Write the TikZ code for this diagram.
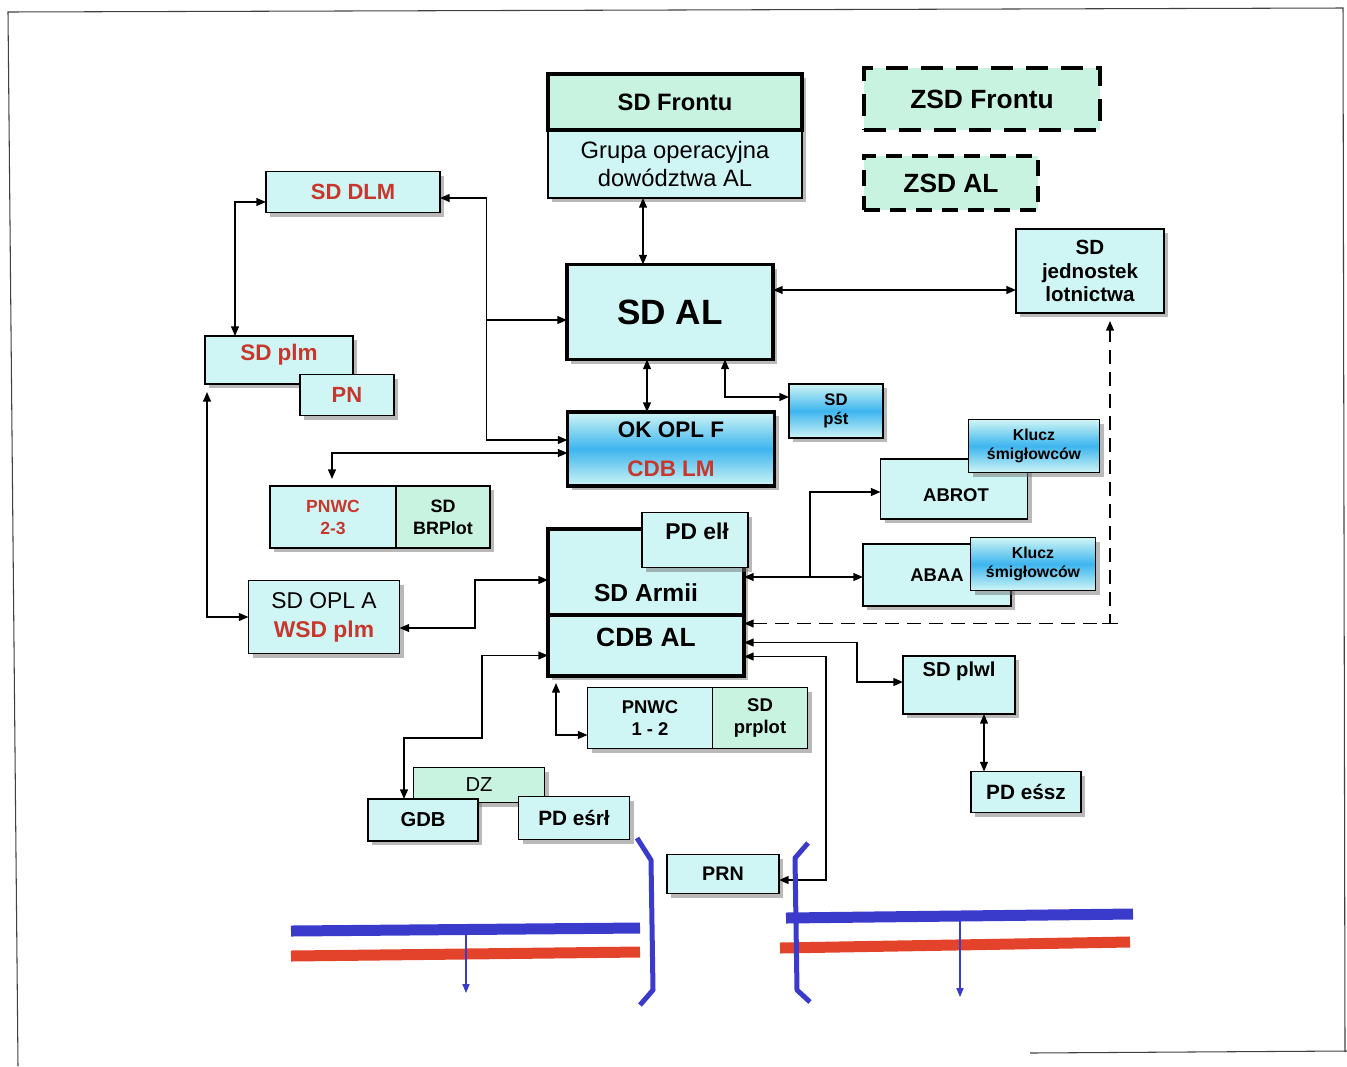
\documentclass[tikz,border=0pt]{standalone}
\usepackage{fontspec}
\setmainfont{Liberation Sans}
\usetikzlibrary{arrows.meta,positioning,calc,shadows}
\definecolor{cy}{HTML}{CFF5F5}
\definecolor{mt}{HTML}{C8F3E0}
\definecolor{sb}{HTML}{3DB5EE}
\definecolor{rd}{HTML}{C8372D}
\definecolor{lb}{HTML}{3B3BCB}
\definecolor{lr}{HTML}{E2432A}
\newcommand{\fsz}[2]{\fontsize{#1}{#2}\selectfont}
\begin{document}
\begin{tikzpicture}[x=0.2mm,y=-0.2mm,
  sz/.style 2 args={minimum width=#1*0.2mm,minimum height=#2*0.2mm},
  shd/.style={drop shadow={shadow xshift=0.8mm,shadow yshift=-0.8mm,fill=black!55,opacity=.5}},
  box/.style={rectangle,draw,fill=cy,outer sep=0pt,inner sep=1pt,line width=0.8pt,align=center,shd},
  thkbox/.style={box,line width=2pt},
  gradbox/.style={box,top color=cy,bottom color=cy,middle color=sb},
  zsdbox/.style={rectangle,draw,fill=mt,outer sep=0pt,line width=2.2pt,dash pattern=on 4.4mm off 2.6mm,font=\fsz{15}{18}\bfseries},
  txt/.style={inner sep=0pt,align=center},
  arrow/.style={-{Triangle[length=5.5pt,width=4.5pt]},line width=0.8pt},
  darrow/.style={{Triangle[length=5.5pt,width=4.5pt]}-{Triangle[length=5.5pt,width=4.5pt]},line width=0.8pt}]
\useasboundingbox (0,0) rectangle (1347,1066);
\draw[black!75,line width=0.6pt] (18,1066) -- (8,12) -- (1343,8) -- (1345,1052);
\draw[black!75,line width=0.6pt] (1030,1053) -- (1347,1051);
\node[thkbox,sz={254}{56},fill=mt,font=\fsz{13.5}{16}\bfseries] (front) at (675,102) {SD Frontu};
\node[box,sz={254}{68},below=0pt of front,font=\fsz{13.5}{16}] (grupa) {Grupa operacyjna\\dowództwa AL};
\draw[line width=2pt] (front.south west) -- (front.south east);
\node[zsdbox,sz={236}{62}] (zsdf) at (982,99) {ZSD Frontu};
\node[zsdbox,sz={174}{54},line width=1.8pt,dash pattern=on 3.2mm off 2mm] (zsdal) at (951,183) {ZSD AL};
\node[thkbox,sz={206}{95},font=\fsz{20}{24}\bfseries] (sdal) at (670,312) {SD AL};
\node[box,sz={148}{84},font=\fsz{11.7}{13.6}\bfseries] (jedn) at (1090,271) {SD\\jednostek\\lotnictwa};
\node[box,sz={174}{41},font=\fsz{12.5}{15}\bfseries,text=rd] (dlm) at (353,192) {SD DLM};
\node[box,sz={148}{48}] (plm) at (279,360) {};
\node[txt,font=\fsz{12.8}{15}\bfseries,text=rd] (plmt) at ($(plm)+(0,-5)$) {SD plm};
\node[box,sz={94}{41},font=\fsz{12.5}{15}\bfseries,text=rd] (pn) at (347,395) {PN};
\node[gradbox,line width=2pt,sz={207}{74},font=\fsz{12.8}{15}\bfseries] (okopl) at (671,449) {OK OPL F\\[2.6mm]\textcolor{rd}{CDB LM}};
\node[gradbox,sz={94}{54},font=\fsz{9.5}{10.8}\bfseries] (pst) at (836,411) {SD\\pśt};
\node[box,sz={147}{60}] (abrot) at (954,489) {};
\node[txt,font=\fsz{10.5}{12}\bfseries] (abrott) at ($(abrot)+(2,6)$) {ABROT};
\node[gradbox,sz={131}{53},font=\fsz{9}{11}\bfseries] (klucza) at (1034,446) {Klucz\\śmigłowców};
\node[box,sz={148}{62},font=\fsz{10.5}{12}\bfseries] (abaa) at (937,575) {ABAA};
\node[gradbox,sz={125}{53},font=\fsz{9}{11}\bfseries] (kluczb) at (1033,564) {Klucz\\śmigłowców};
\node[box,sz={126}{62},font=\fsz{10}{12.5}\bfseries,text=rd] (pnwca) at (333,517) {PNWC\\2-3};
\node[box,sz={94}{62},fill=mt,right=0pt of pnwca,font=\fsz{10.2}{12.5}\bfseries] (brplot) {SD\\BRPlot};
\node[thkbox,sz={196}{86}] (armii) at (646,572) {};
\node[thkbox,sz={196}{61},below=0pt of armii] (cdbal) {};
\node[txt,font=\fsz{14}{16}\bfseries] (armiit) at ($(armii)+(0,21)$) {SD Armii};
\node[txt,font=\fsz{15}{18}\bfseries] (cdbalt) at ($(cdbal)+(0,-8)$) {CDB AL};
\node[box,sz={106}{55}] (pdelk) at (695,540) {};
\node[txt,font=\fsz{13}{15}\bfseries] (pdelkt) at ($(pdelk)+(2,-9)$) {PD elł};
\node[box,sz={151}{73},font=\fsz{13}{16.4}] (oplA) at (324,617) {SD OPL A\\\textbf{\color{rd}WSD plm}};
\node[box,sz={125}{61},font=\fsz{10.5}{12.5}\bfseries] (pnwcb) at (650,718) {PNWC\\1 - 2};
\node[box,sz={95}{61},fill=mt,right=0pt of pnwcb,font=\fsz{10.5}{12.5}\bfseries] (prplot) {SD\\prplot};
\node[box,sz={112}{58}] (plwl) at (959,685) {};
\node[txt,font=\fsz{11.5}{14}\bfseries] (plwlt) at ($(plwl)+(0,-14)$) {SD plwl};
\node[box,sz={110}{41},font=\fsz{11.8}{14}\bfseries] (pdessz) at (1026,792) {PD eśsz};
\node[box,sz={131}{35},fill=mt,font=\fsz{11.5}{14}] (dz) at (479,785) {DZ};
\node[box,sz={110}{42},font=\fsz{11.5}{14}\bfseries] (gdb) at (423,820) {GDB};
\node[box,sz={111}{43},font=\fsz{11.8}{14}\bfseries] (pdesrl) at (574,818) {PD eśrł};
\node[box,sz={112}{39},font=\fsz{11.2}{14}\bfseries] (prn) at (723,874) {PRN};
\draw[darrow] ($(grupa.south)+(-32,0)$) coordinate (c1) -- (c1 |- sdal.north);
\draw[darrow] ($(sdal.east)+(0,-22)$) coordinate (c2) -- (c2 -| jedn.west);
\draw[darrow] ($(sdal.south)+(-23,0)$) coordinate (c3) -- (c3 |- okopl.north);
\draw[darrow] ($(pst.west)+(0,-14)$) -| ($(sdal.south)+(55,0)$);
\draw[darrow] ($(dlm.east)+(0,6)$) -| ($(okopl.west)+(-81,-9)$) -- ($(okopl.west)+(0,-9)$);
\draw[arrow] ($(sdal.west)+(-80,8)$) -- ($(sdal.west)+(0,8)$);
\draw[darrow] ($(dlm.west)+(0,10)$) -| ($(plm.north)+(-44,0)$);
\draw[darrow] ($(plm.south)+(-72,8)$) |- (oplA.west);
\draw[darrow] ($(okopl.west)+(0,4)$) -| ($(pnwca.north)+(-1,-7)$);
\draw[darrow] ($(oplA.east)+(0,11)$) -| ($(armii.west)+(-73,8)$) -- ($(armii.west)+(0,8)$);
\draw[darrow] ($(cdbal.west)+(0,10)$) -| ($(gdb.north)+(59,-61)$) -| ($(gdb.north)+(-19,0)$);
\draw[darrow] ($(cdbal.south)+(-90,7)$) |- ($(pnwcb.west)+(0,17)$);
\draw[darrow] ($(armii.east)+(0,5)$) coordinate (c12) -- (c12 -| abaa.west);
\draw[arrow] ($(c12)+(66,0)$) |- ($(abrot.west)+(0,3)$);
\draw[darrow,dash pattern=on 2.8mm off 1.6mm] ($(cdbal.east)+(0,-22)$) coordinate (c13) -| ($(jedn.south)+(20,8)$);
\draw[line width=0.8pt] ($(c13)+(358,0)$) -- ($(c13)+(374,0)$);
\draw[darrow] ($(cdbal.east)+(0,-3)$) -| ($(plwl.west)+(-46,-3)$) -- ($(plwl.west)+(0,-3)$);
\draw[darrow] ($(cdbal.east)+(0,11)$) -| ($(prn.east)+(47,6)$) -- ($(prn.east)+(0,6)$);
\draw[darrow] ($(plwl.south)+(25,0)$) coordinate (c16) -- (c16 |- pdessz.north);
\draw[lb,line width=2.2mm] (291,931) -- (640,928);
\draw[lr,line width=2.2mm] (291,956) -- (640,952);
\draw[lb,line width=2.2mm] (786,918) -- (1133,914);
\draw[lr,line width=2.2mm] (780,948) -- (1130,942);
\draw[lb,line width=0.6pt,-{Triangle[length=5pt,width=4pt]}] (466,930) -- (466,993);
\draw[lb,line width=0.6pt,-{Triangle[length=5pt,width=4pt]}] (960,916) -- (960,997);
\draw[lb,line width=1mm,line join=round] (637,838) -- (651,860) -- (653,990) -- (640,1005);
\draw[lb,line width=1mm,line join=round] (808,843) -- (795,858) -- (797,990) -- (810,1002);
\end{tikzpicture}
\end{document}
